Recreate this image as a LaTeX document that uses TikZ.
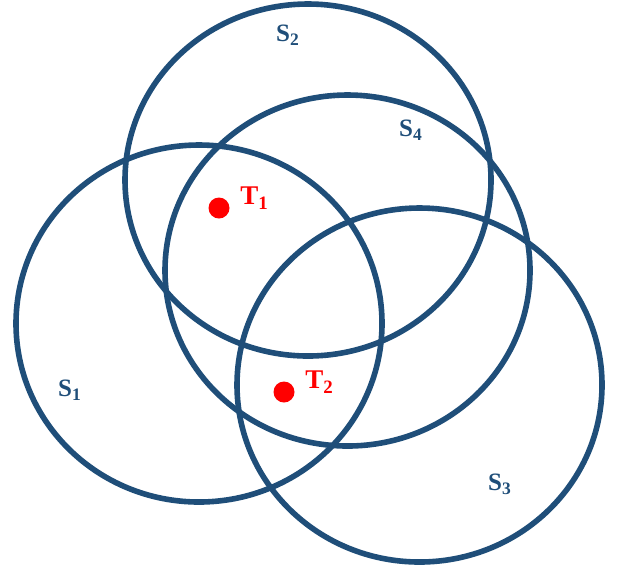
\documentclass[tikz,border=0pt]{standalone}
\usepackage{fontspec}
\setmainfont{Liberation Serif}
\usepackage{tikz}
\usetikzlibrary{positioning}
\definecolor{sensor}{HTML}{1F4E79}
\definecolor{target}{HTML}{FF0000}
\tikzset{rangering/.style={draw=sensor,line width=2.8pt},slabel/.style={text=sensor,font=\bfseries\fontsize{12.5}{14}\selectfont,inner sep=1pt},tdot/.style={circle,fill=target,minimum size=10.5pt,inner sep=0pt},tlabel/.style={text=target,font=\bfseries\fontsize{13.5}{15}\selectfont,inner sep=1pt}}

\begin{document}
\begin{tikzpicture}[x=0.5pt,y=-0.5pt]
\useasboundingbox (0,0) rectangle (620,570);
\draw[rangering] (199,323.5) ellipse [x radius=183,y radius=178.5];
\draw[rangering] (308,180) ellipse [x radius=183,y radius=176];
\draw[rangering] (347.5,270.5) ellipse [x radius=182.5,y radius=175.5];
\draw[rangering] (419.5,385) ellipse [x radius=182.5,y radius=177];
\node[slabel] (s1) at (70,390) {S\textsubscript{1}};
\node[slabel] (s2) at (288,35) {S\textsubscript{2}};
\node[slabel] (s4) at (411,130) {S\textsubscript{4}};
\node[slabel] (s3) at (500,484) {S\textsubscript{3}};
\node[tdot] (t1) at (219,208) {};
\node[tlabel,right=4pt of t1,yshift=5pt] (t1l) {T\textsubscript{1}};
\node[tdot] (t2) at (284,392) {};
\node[tlabel,right=4pt of t2,yshift=5pt] (t2l) {T\textsubscript{2}};
\end{tikzpicture}
\end{document}
